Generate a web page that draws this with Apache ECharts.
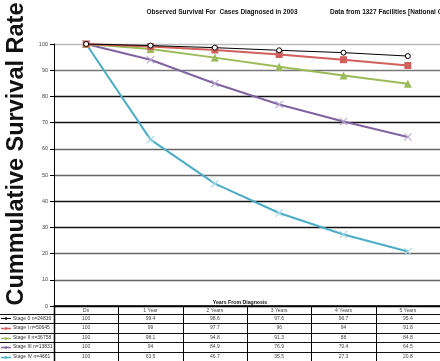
<!DOCTYPE html>
<html>
<head>
<meta charset="utf-8">
<script src="https://cdn.jsdelivr.net/npm/echarts@6/dist/echarts.min.js"></script>
<style>
  html, body { margin: 0; padding: 0; background: #fff; }
  #chart { width: 440px; height: 361px; }
</style>
</head>
<body>
<div id="chart"></div>
<script>
// Survival data by stage, one value per interval since diagnosis
const categories = ['Dx', '1 Year', '2 Years', '3 Years', '4 Years', '5 Years'];
const stageNames = ['Stage 0 n=24816', 'Stage I n=50645', 'Stage II n=36758', 'Stage III n=13831', 'Stage IV n=4661'];
const stage0 = [100, 99.4, 98.6, 97.6, 96.7, 95.4];
const stage1 = [100, 99, 97.7, 96, 94, 91.8];
const stage2 = [100, 98.1, 94.8, 91.3, 88, 84.8];
const stage3 = [100, 94, 84.9, 76.9, 70.4, 64.5];
const stage4 = [100, 63.5, 46.7, 35.5, 27.3, 20.8];
const stageValues = [stage0, stage1, stage2, stage3, stage4];

const titleText = 'Observed Survival For  Cases Diagnosed in 2003';
const subtitleText = 'Data from 1327 Facilities [National Cancer Data Base]';
const yTitle = 'Cummulative Survival Rate';
const xTitle = 'Years From Diagnosis';

// Styling per stage
const crossPath = 'path://M0,1L1,0L5,4L9,0L10,1L6,5L10,9L9,10L5,6L1,10L0,9L4,5Z';
const styles = [
  { line: '#000000', width: 1, symbol: 'circle', size: 5, fill: '#ffffff', border: '#000000', bw: 1 },
  { line: '#d0605b', width: 2, symbol: 'rect', size: 7, fill: '#d0605b', border: '#d0605b', bw: 0 },
  { line: '#9bbb59', width: 2, symbol: 'triangle', size: 8, fill: '#9bbb59', border: '#9bbb59', bw: 0 },
  { line: '#8064a2', width: 2, symbol: crossPath, size: 8, fill: '#b9a8d2', border: '#b9a8d2', bw: 0 },
  { line: '#4bacc6', width: 2, symbol: crossPath, size: 8, fill: '#a6d8e8', border: '#a6d8e8', bw: 0 }
];

const GRID_LEFT = 54;
const AXIS_Y = 306;
const HEADER_H = 7.5;
const ROW_H = 9.6;

const chart = echarts.init(document.getElementById('chart'), null, { renderer: 'canvas' });

const series = stageValues.map((vals, i) => ({
  name: stageNames[i],
  type: 'line',
  data: vals,
  symbol: styles[i].symbol,
  symbolSize: styles[i].size,
  showAllSymbol: true,
  lineStyle: { color: styles[i].line, width: styles[i].width },
  itemStyle: { color: styles[i].fill, borderColor: styles[i].border, borderWidth: styles[i].bw },
  z: 10 - i,
  animation: false
}));

chart.setOption({
  animation: false,
  backgroundColor: '#ffffff',
  grid: { left: GRID_LEFT, right: -4, top: 44, bottom: 361 - AXIS_Y },
  xAxis: {
    type: 'category',
    data: categories,
    boundaryGap: true,
    axisLine: { lineStyle: { color: '#000', width: 1.5 } },
    axisTick: { show: false },
    axisLabel: { show: false },
    splitLine: { show: false }
  },
  yAxis: {
    type: 'value',
    min: 0,
    max: 100,
    interval: 10,
    axisLine: { show: true, lineStyle: { color: '#000', width: 1 } },
    axisTick: { show: true, length: 4, lineStyle: { color: '#000' } },
    axisLabel: { fontSize: 5.5, color: '#444', margin: 6, fontFamily: 'Liberation Sans' },
    splitLine: {
      show: true,
      lineStyle: {
        width: 1.4,
        color: ['#000', '#666', '#666', '#111', '#111', '#666', '#666', '#111', '#111', '#777', '#bbb']
      }
    }
  },
  series: series
});

// Build the data table, the legend column and the titles
const colCenters = categories.map((c, i) => chart.convertToPixel({ xAxisIndex: 0 }, i));
const colW = colCenters.length > 1 ? colCenters[1] - colCenters[0] : 65;
const elements = [];
const txt = (x, y, text, opts) => ({
  type: 'text', silent: true, z: 100,
  style: Object.assign({
    x: x, y: y, text: text, fontSize: 5, fill: '#444',
    fontFamily: 'Liberation Sans', align: 'center', verticalAlign: 'middle'
  }, opts || {})
});
const hline = (x1, x2, y, color, w) => ({
  type: 'line', silent: true, z: 90,
  shape: { x1: x1, y1: y, x2: x2, y2: y },
  style: { stroke: color || '#000', lineWidth: w || 1 }
});
const vline = (x, y1, y2, color, w) => ({
  type: 'line', silent: true, z: 90,
  shape: { x1: x, y1: y1, x2: x, y2: y2 },
  style: { stroke: color || '#000', lineWidth: w || 1 }
});

// header row with the category names
categories.forEach((c, i) => {
  elements.push(txt(colCenters[i], AXIS_Y + HEADER_H / 2 + 0.5, c));
});

// rows: one per stage
stageValues.forEach((vals, r) => {
  const top = AXIS_Y + HEADER_H + r * ROW_H;
  const mid = top + ROW_H / 2;
  elements.push(hline(0, 440, Math.round(top) + 0.5, '#111', 1));
  // legend sample
  const st = styles[r];
  elements.push(hline(1, 11, Math.round(mid) + 0.5, st.line, st.width === 1 ? 1 : 1.5));
  elements.push({
    type: 'circle', silent: true, z: 95,
    shape: { cx: 6, cy: Math.round(mid) + 0.5, r: 1.3 },
    style: { fill: st.line }
  });
  elements.push(txt(13, mid, stageNames[r], { align: 'left', fill: '#333' }));
  vals.forEach((v, i) => {
    elements.push(txt(colCenters[i], mid, String(v)));
  });
});

// vertical column borders
for (let k = 0; k <= categories.length; k++) {
  const x = Math.round(GRID_LEFT + k * colW) + 0.5;
  elements.push(vline(x, AXIS_Y, 361, '#000', k === 0 ? 1.5 : 1));
}

// titles
elements.push(txt(222, 12, titleText, { fontSize: 6.5, fontWeight: 'bold', fill: '#111' }));
elements.push(txt(330, 12, subtitleText, { fontSize: 6.5, fontWeight: 'bold', fill: '#111', align: 'left' }));
elements.push(txt(240, 303, xTitle, { fontSize: 5.2, fontWeight: 'bold', fill: '#111' }));
elements.push({
  type: 'text', silent: true, z: 100,
  x: 17, y: 154, rotation: Math.PI / 2,
  style: {
    x: 0, y: 0, text: yTitle, fontSize: 23.5, fontWeight: 'bold', fill: '#111',
    fontFamily: 'Liberation Sans', align: 'center', verticalAlign: 'middle'
  }
});

chart.setOption({ graphic: { elements: elements } });
</script>
</body>
</html>
